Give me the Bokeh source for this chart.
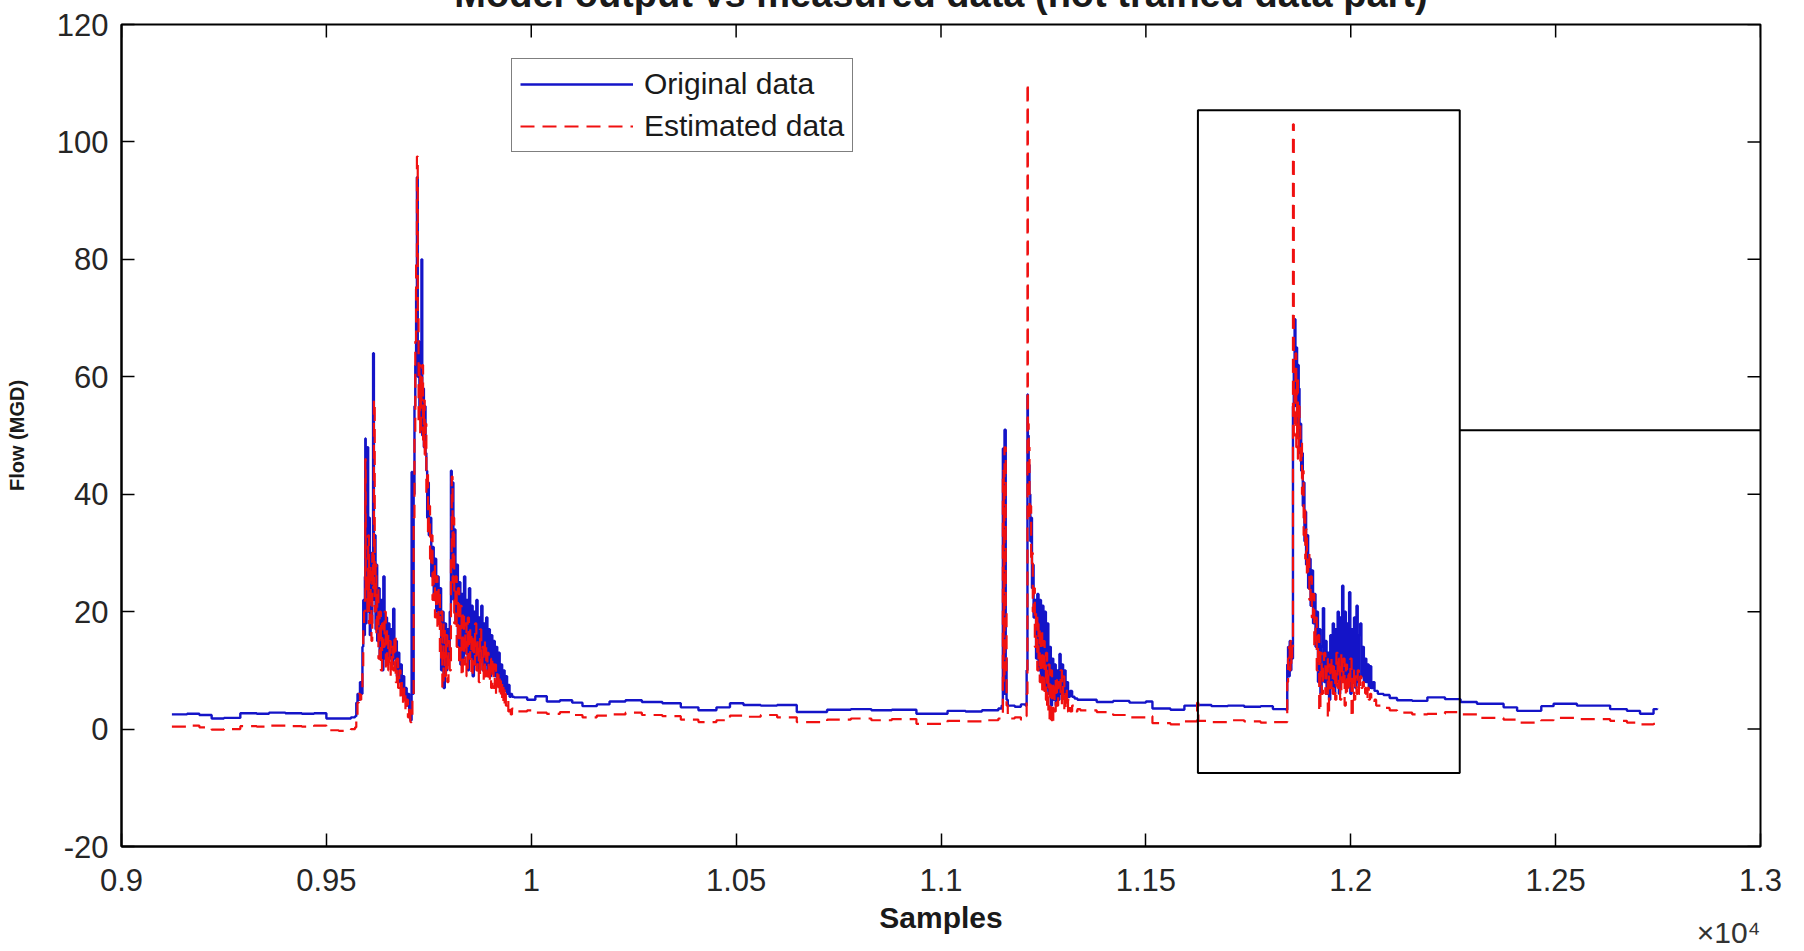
from bokeh.plotting import figure
from bokeh.models import (Range1d, FixedTicker, Legend, LegendItem,
                          Label, BoxAnnotation, Arrow)
from bokeh.embed import file_html
from bokeh.resources import INLINE

# ---------------- data ----------------
# segment A : quiet period before the first storm
samples_a = [9123, 9160, 9190, 9220, 9250, 9290, 9330, 9360, 9400, 9440, 9470, 9500, 9530, 9560]
orig_a = [2.5, 2.6, 2.4, 1.8, 1.9, 2.7, 2.6, 2.8, 2.7, 2.6, 2.7, 1.8, 1.8, 2.0]
est_a = [0.4, 0.6, 0.3, -0.1, 0.0, 0.5, 0.4, 0.6, 0.5, 0.4, 0.6, -0.2, -0.3, 0.0]

# segment B : first storm
samples_b = [9570, 9573, 9576, 9579, 9582, 9585, 9588, 9590, 9592, 9594,
             9595, 9596, 9598, 9600, 9602, 9604, 9606, 9608, 9610, 9612,
             9614, 9616, 9618, 9620, 9622, 9624, 9627, 9630, 9633, 9636,
             9639, 9642, 9645, 9648, 9651, 9654, 9657, 9660, 9663, 9666,
             9669, 9672, 9675, 9678, 9681, 9684, 9687, 9690, 9693, 9696,
             9699, 9702, 9705, 9708, 9710, 9713, 9715, 9717, 9719, 9721,
             9723, 9725, 9727, 9729, 9731, 9732, 9734, 9736, 9738, 9740,
             9742, 9744, 9746, 9748, 9750, 9753, 9756, 9759, 9762, 9765,
             9768, 9771, 9774, 9777, 9780, 9783, 9786, 9789, 9792, 9795,
             9798, 9801, 9804, 9806, 9808, 9810, 9812, 9815, 9818, 9821,
             9824, 9827, 9830, 9833, 9836, 9839, 9842, 9845, 9848, 9851,
             9854, 9857, 9860, 9863, 9866, 9869, 9872, 9875, 9878, 9881,
             9884, 9887, 9890, 9893, 9896, 9899, 9902, 9905, 9908, 9911,
             9914, 9917, 9920, 9923, 9926, 9929, 9932, 9935, 9938, 9941,
             9944, 9947, 9950, 9953]
orig_b = [2.2, 4.5, 6, 5, 8, 6, 14, 22, 16, 26,
          49.5, 18, 30, 48, 20, 36, 16, 30, 18, 26,
          64, 22, 33, 17, 28, 15, 24, 12, 22, 10,
          26, 12, 19, 11, 18, 12, 17, 11, 20.5, 12,
          15, 9, 13, 8, 11, 6, 9, 5, 7, 4,
          6, 3, 1.5, 43.8, 6, 40, 55, 62, 75, 94,
          60, 66, 55, 63, 52, 80, 50, 58, 48, 55,
          47, 44, 36, 42, 33, 36, 26, 31, 22, 29,
          20, 26, 18, 24, 10, 20, 7, 18, 10, 17,
          12, 20, 44, 30, 42, 22, 34, 18, 28, 14,
          25, 11, 23, 12, 26, 13, 22, 10, 24, 12,
          21, 9, 20, 11, 22, 10, 19, 12, 21, 10,
          18, 11, 19, 10, 17, 9, 16, 10, 15, 9,
          14, 8, 13, 8, 11, 7, 10, 6.5, 9, 6,
          7.5, 5.5, 6, 5.5]
est_b = [0.3, 1.5, 4.5, 6, 5, 7, 10, 18, 20, 22,
         46, 24, 26, 20, 33, 18, 28, 22, 15, 30,
         24, 56, 20, 28, 16, 24, 12, 20, 10, 18,
         14, 20, 10, 17, 10, 15, 9, 14, 10, 16,
         8, 12, 7, 10, 5, 8, 4, 7, 3, 5,
         2, 4, 1.2, 2, 5, 36, 50, 66, 80, 97.5,
         70, 52, 62, 50, 60, 56, 62, 48, 56, 46,
         52, 40, 44, 33, 38, 28, 33, 22, 28, 19,
         26, 17, 24, 12, 20, 7, 18, 9, 16, 8,
         15, 10, 30, 43, 25, 36, 18, 26, 14, 24,
         11, 21, 9, 20, 11, 18, 9, 19, 12, 17,
         9, 16, 11, 18, 10, 15, 8, 17, 10, 14,
         8, 15, 9, 13, 8, 12, 7, 12, 7, 11,
         6, 10, 6, 9, 5, 8, 4, 7, 4, 5,
         3, 4, 2.5, 3.5]

# segment C : dry weather
samples_c = [9958, 9990, 10010, 10038, 10070, 10100, 10125, 10160, 10191, 10230,
             10270, 10320, 10365, 10408, 10452, 10485, 10518, 10560, 10600, 10648,
             10722, 10780, 10830, 10880, 10940, 11016, 11060, 11100, 11140]
orig_c = [5.4, 5.0, 5.6, 4.7, 4.9, 4.5, 3.9, 4.2, 4.7, 4.9,
          4.6, 4.4, 3.7, 3.2, 3.7, 4.4, 4.1, 4.0, 4.1, 2.9,
          3.3, 3.4, 3.2, 3.3, 2.6, 3.1, 3.0, 3.2, 3.5]
est_c = [3.0, 3.2, 2.8, 2.6, 2.9, 2.4, 2.0, 2.3, 2.5, 2.8,
         2.4, 2.2, 1.6, 1.2, 1.5, 2.3, 2.1, 2.4, 2.0, 1.2,
         1.6, 1.8, 1.5, 1.7, 0.9, 1.4, 1.3, 1.5, 1.8]

# segment D : second storm
samples_d = [11148, 11151, 11153, 11155, 11158, 11160, 11163, 11180, 11195, 11206,
             11209, 11211, 11212, 11214, 11216, 11218, 11220, 11222, 11224, 11226,
             11229, 11232, 11235, 11238, 11241, 11244, 11247, 11250, 11253, 11256,
             11259, 11262, 11265, 11268, 11271, 11274, 11277, 11280, 11283, 11286,
             11289, 11292, 11295, 11298, 11301, 11304, 11307, 11310, 11315, 11320,
             11326, 11333]
orig_d = [4.0, 47.8, 6, 51, 12, 5, 4.0, 3.8, 4.2, 4.0,
          10, 57, 50, 45, 40, 32, 36, 24, 28, 19,
          22, 12, 23, 10, 22, 9, 21, 8, 20, 7,
          18, 6, 14, 4, 12, 5, 11, 4, 10, 5,
          12.8, 6, 11, 6, 10, 5, 8, 5.5, 6.5, 5.5,
          5.2, 5.0]
est_d = [2.0, 44, 8, 48, 20, 4, 1.8, 2.0, 1.6, 2.2,
         6, 110, 52, 48, 36, 38, 28, 30, 20, 24,
         14, 20, 10, 18, 8, 17, 6, 15, 5, 13,
         3, 11, 1, 10, 0.8, 8, 3, 9, 4, 8,
         6, 10, 4, 9, 3, 7, 3, 5, 3, 4,
         3, 3.4]

# segment E : dry weather
samples_e = [11340, 11380, 11420, 11460, 11500, 11516, 11560, 11594, 11625, 11628,
             11660, 11700, 11740, 11780, 11810, 11842]
orig_e = [5.0, 4.6, 4.8, 4.5, 4.7, 3.5, 3.3, 4.0, 4.1, 4.1,
          3.9, 4.0, 3.8, 3.9, 3.4, 3.3]
est_e = [3.2, 2.9, 2.4, 2.0, 2.2, 1.0, 0.8, 1.3, 4.5, 1.4,
         1.2, 1.5, 1.3, 1.1, 1.2, 1.2]

# segment F : third storm (inside the highlighted box)
samples_f = [11845, 11847, 11849, 11851, 11853, 11855, 11857, 11859, 11861, 11863,
             11865, 11867, 11869, 11871, 11873, 11875, 11877, 11879, 11881, 11883,
             11885, 11887, 11889, 11891, 11893, 11896, 11899, 11902, 11905, 11908,
             11911, 11914, 11917, 11920, 11923, 11926, 11929, 11932, 11935, 11938,
             11941, 11944, 11947, 11950, 11953, 11956, 11959, 11962, 11965, 11968,
             11971, 11974, 11977, 11979, 11982, 11985, 11988, 11991, 11994, 11996,
             11999, 12002, 12005, 12008, 12011, 12014, 12017, 12020, 12023, 12026,
             12029, 12032, 12035, 12038, 12041, 12044, 12047, 12050, 12054, 12058,
             12062]
orig_f = [11, 14, 9, 15, 10, 14, 12, 55, 62, 69.8,
          55, 65, 52, 62, 58, 47, 52, 44, 47, 38,
          42, 32, 37, 28, 33, 24, 29, 21, 27, 18,
          23, 14, 20, 8, 17, 6, 14, 20.6, 8, 15,
          6, 13, 5, 16, 7, 18, 6, 17, 8, 20,
          6, 19, 9, 24.4, 9, 20, 7, 18, 8, 23.3,
          6, 17, 8, 19, 7, 21, 8, 16, 18, 9,
          14, 8, 12, 8, 11, 7, 10.7, 7, 8, 6.5,
          6.5]
est_f = [8, 12, 14, 10, 15, 11, 14, 103, 50, 58,
         64, 48, 60, 46, 55, 53, 45, 49, 40, 44,
         33, 38, 29, 34, 26, 30, 22, 26, 19, 23,
         14, 19, 10, 16, 3, 13, 6, 11, 13, 6,
         12, 2, 11, 7, 12, 6, 11, 5, 13, 7,
         12, 5, 13, 8, 12, 4, 11, 6, 10, 7,
         12, 2, 10, 5, 9, 6, 10, 6, 9, 7,
         8, 6, 7, 5, 7, 5, 6, 5, 4.5, 5,
         4]

# segment G : dry weather until the end
samples_g = [12066, 12080, 12095, 12113, 12150, 12187, 12230, 12268, 12308, 12373,
             12406, 12465, 12495, 12552, 12633, 12674, 12706, 12739, 12748]
orig_g = [6.0, 5.8, 5.3, 4.9, 4.8, 5.4, 5.1, 4.6, 4.3, 3.7,
          3.1, 3.9, 4.3, 4.0, 3.4, 3.1, 2.6, 3.4, 3.5]
est_g = [4.0, 3.6, 3.2, 2.8, 2.5, 2.6, 2.9, 2.5, 1.9, 1.6,
         1.1, 1.5, 1.9, 1.7, 1.4, 1.1, 0.8, 0.9, 1.2]

# axes
x_min, x_max = 9000, 13000
y_min, y_max = -20, 120
x_ticks = [9000, 9500, 10000, 10500, 11000, 11500, 12000, 12500, 13000]
x_tick_labels = ["0.9", "0.95", "1", "1.05", "1.1", "1.15", "1.2", "1.25", "1.3"]
y_ticks = [-20, 0, 20, 40, 60, 80, 100, 120]
y_tick_labels = ["-20", "0", "20", "40", "60", "80", "100", "120"]

# highlighted zoom box and its connector line
box_left, box_right, box_bottom, box_top = 11627, 12266, -7.5, 105.4
connector_y = 50.9
connector_end = 13063

samples = samples_a + samples_b + samples_c + samples_d + samples_e + samples_f + samples_g
original = orig_a + orig_b + orig_c + orig_d + orig_e + orig_f + orig_g
estimated = est_a + est_b + est_c + est_d + est_e + est_f + est_g

FONT = "Liberation Sans"
BLUE = "#1414c8"
RED = "#f01010"
TICK_LEN = 13
TOP_BORDER = 80          # room for the title (mostly above the page, as in the picture)
PAGE_SHIFT = 56          # canvas is moved up so that the box top lands at y = 24

p = figure(width=1804, height=TOP_BORDER + 822 + 103, output_backend="svg",
           toolbar_location=None,
           x_range=Range1d(x_min, x_max), y_range=Range1d(y_min, y_max),
           min_border_left=121, min_border_right=44, min_border_top=TOP_BORDER,
           min_border_bottom=103)
p.styles = {"margin-top": "-%dpx" % PAGE_SHIFT}
p.title.visible = False
p.xgrid.visible = False
p.ygrid.visible = False
p.outline_line_color = "black"
p.outline_line_width = 2
p.background_fill_color = "white"
p.border_fill_color = "white"

r_orig = p.step(samples, original, mode="after", line_color=BLUE, line_width=2.4)
r_est = p.step(samples, estimated, mode="after", line_color=RED, line_width=2.2,
               line_dash="14 8")

# inward ticks on the top and right edges of the box (MATLAB style)
p.ray(x=x_ticks, y=[y_max] * len(x_ticks), length=TICK_LEN, length_units="screen",
      angle=-90, angle_units="deg", line_color="black", line_width=1.5)
p.ray(x=[x_max] * len(y_ticks), y=y_ticks, length=TICK_LEN, length_units="screen",
      angle=180, angle_units="deg", line_color="black", line_width=1.5)


def style_axis(ax):
    ax.axis_line_color = "black"
    ax.axis_line_width = 2
    ax.major_tick_in = TICK_LEN
    ax.major_tick_out = 0
    ax.major_tick_line_color = "black"
    ax.major_tick_line_width = 1.5
    ax.minor_tick_in = 0
    ax.minor_tick_out = 0
    ax.major_label_text_font = FONT
    ax.major_label_text_font_size = "31px"
    ax.major_label_text_color = "#262626"


xax = p.xaxis[0]
xax.ticker = FixedTicker(ticks=x_ticks)
xax.major_label_overrides = dict(zip(x_ticks, x_tick_labels))
style_axis(xax)
xax.major_label_standoff = 22
xax.axis_label = "Samples"
xax.axis_label_text_font = FONT
xax.axis_label_text_font_style = "bold"
xax.axis_label_text_font_size = "30px"
xax.axis_label_text_color = "#1a1a1a"
xax.axis_label_standoff = 7

yax = p.yaxis[0]
yax.ticker = FixedTicker(ticks=y_ticks)
yax.major_label_overrides = dict(zip(y_ticks, y_tick_labels))
style_axis(yax)
yax.major_label_standoff = 13
yax.axis_label = "Flow (MGD)"
yax.axis_label_text_font = FONT
yax.axis_label_text_font_style = "bold"
yax.axis_label_text_font_size = "20px"
yax.axis_label_text_color = "#1a1a1a"
yax.axis_label_standoff = 26

# title: only its lower part shows at the top edge, as in the picture
p.add_layout(Label(x=(x_min + x_max) / 2, y=121.6,
                   text="Model output vs measured data (not trained data part)",
                   text_align="center", text_baseline="bottom", text_font=FONT,
                   text_font_style="bold", text_font_size="38px",
                   text_color="#1a1a1a"), "above")
# exponent of the x axis, bottom right under the axis
p.add_layout(Label(x=x_max, y=-37.54, text="\u00d710\u2074",
                   text_align="right", text_baseline="bottom", text_font=FONT,
                   text_font_size="30px", text_color="#333333"), "above")

# zoom box and connector
p.add_layout(BoxAnnotation(left=box_left, right=box_right, bottom=box_bottom, top=box_top,
                           fill_alpha=0, line_color="black", line_alpha=1, line_width=2))
p.add_layout(Arrow(start=None, end=None, x_start=box_right, y_start=connector_y,
                   x_end=connector_end, y_end=connector_y,
                   line_color="black", line_width=2))

legend = Legend(items=[LegendItem(label="Original data", renderers=[r_orig]),
                       LegendItem(label="Estimated data", renderers=[r_est])],
                location=(390, 694), margin=0, padding=8, spacing=8,
                glyph_width=113, glyph_height=30, label_height=30, label_standoff=11,
                label_text_font=FONT, label_text_font_size="30px",
                label_text_color="#1a1a1a",
                border_line_color="black", border_line_width=1.5,
                background_fill_color="white", background_fill_alpha=1)
p.add_layout(legend)

open("out.html", "w").write(file_html(p, INLINE))
